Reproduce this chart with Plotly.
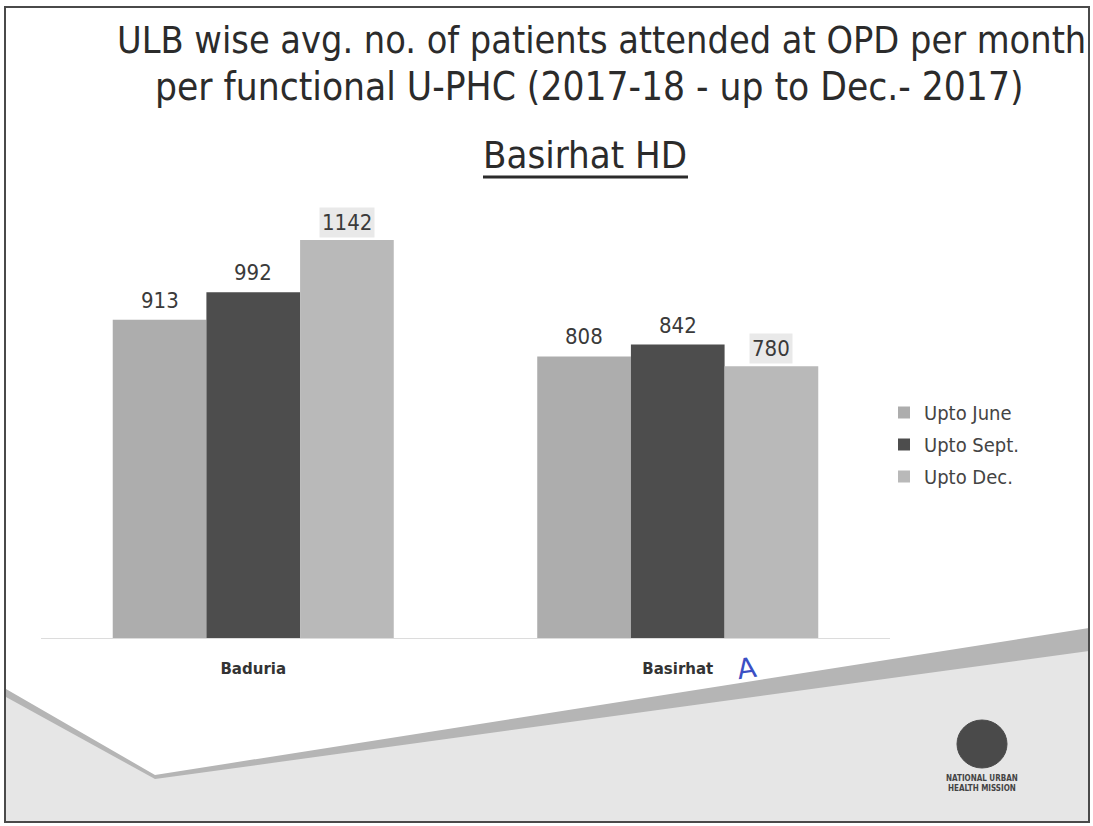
import plotly.graph_objects as go

# ---- data -------------------------------------------------------------
ulbs = ["Baduria", "Basirhat"]
series_names = ["Upto June", "Upto Sept.", "Upto Dec."]
upto_june = [913, 808]
upto_sept = [992, 842]
upto_dec = [1142, 780]
series_values = [upto_june, upto_sept, upto_dec]

title_line1 = "ULB wise avg. no. of patients attended at OPD per month"
title_line2 = "per functional U-PHC (2017-18 - up to Dec.- 2017)"
subtitle = "Basirhat HD"

# ---- styling ----------------------------------------------------------
W, H = 1093, 826
PL, PR, PT, PB = 41, 890, 200, 638          # plot-area edges in pixels
bar_colors = ["#adadad", "#4d4d4d", "#b9b9b9"]
highlight = {(0, 2), (1, 2)}                # labels drawn on a shaded box
FONT = "DejaVu Sans Condensed, DejaVu Sans, sans-serif"
TXT = "#333333"


def fx(px):
    return (px - PL) / (PR - PL)


def fy(py):
    return (PB - py) / (PB - PT)


fig = go.Figure()
for name, vals, col in zip(series_names, series_values, bar_colors):
    fig.add_trace(go.Bar(
        name=name, x=ulbs, y=vals, marker=dict(color=col, line=dict(width=0)),
        legendgroup=name, hoverinfo="x+y+name",
    ))

# value labels above each bar
bar_w = (PR - PL) / len(ulbs) * (1 - 0.338) / 3
annotations = []
for si, vals in enumerate(series_values):
    for ci, v in enumerate(vals):
        boxed = (ci, si) in highlight
        annotations.append(dict(
            x=ulbs[ci], y=v, xref="x", yref="y",
            xshift=(si - 1) * bar_w, yshift=2 if boxed else 4,
            text=str(v), showarrow=False, yanchor="bottom",
            font=dict(family=FONT, size=22, color="#3a3a3a"),
            bgcolor="#e9e9e9" if boxed else "rgba(0,0,0,0)",
            borderpad=2,
        ))

# titles
annotations += [
    dict(x=fx(601), y=fy(40), xref="paper", yref="paper", text=title_line1,
         showarrow=False, xanchor="center", yanchor="middle",
         font=dict(family=FONT, size=37.5, color="#2b2b2b")),
    dict(x=fx(589), y=fy(86), xref="paper", yref="paper", text=title_line2,
         showarrow=False, xanchor="center", yanchor="middle",
         font=dict(family=FONT, size=38.5, color="#2b2b2b")),
    dict(x=fx(585), y=fy(155), xref="paper", yref="paper", text=subtitle,
         showarrow=False, xanchor="center", yanchor="middle",
         font=dict(family=FONT, size=38, color="#2b2b2b")),
    # handwritten mark beside the second category
    dict(x=fx(746), y=fy(668), xref="paper", yref="paper", text="A",
         showarrow=False, xanchor="center", yanchor="middle", textangle=-8,
         font=dict(family="DejaVu Sans, sans-serif", size=28, color="#3b4fc4")),
    # mission logo caption
    dict(x=fx(982), y=fy(783), xref="paper", yref="paper",
         text="<b>NATIONAL URBAN<br>HEALTH MISSION</b>",
         showarrow=False, xanchor="center", yanchor="middle",
         font=dict(family=FONT, size=8, color="#444444")),
]


def path(points):
    return "M " + " L ".join(f"{fx(x):.5f},{fy(y):.5f}" for x, y in points) + " Z"


shapes = [
    # dark diagonal band
    dict(type="path", xref="paper", yref="paper", layer="below",
         path=path([(6, 689), (155, 775), (1089, 628), (1089, 822), (6, 822)]),
         fillcolor="#b5b5b5", line=dict(width=0)),
    # light grey floor
    dict(type="path", xref="paper", yref="paper", layer="below",
         path=path([(6, 697), (155, 779), (1089, 651), (1089, 822), (6, 822)]),
         fillcolor="#e6e6e6", line=dict(width=0)),
    # subtitle underline
    dict(type="line", xref="paper", yref="paper",
         x0=fx(483), x1=fx(688), y0=fy(177), y1=fy(177),
         line=dict(color="#2b2b2b", width=3)),
    # logo disc
    dict(type="circle", xref="paper", yref="paper", layer="below",
         x0=fx(957), x1=fx(1007), y0=fy(720), y1=fy(768),
         fillcolor="#4a4a4a", line=dict(color="#4a4a4a", width=1)),
    # slide frame
    dict(type="rect", xref="paper", yref="paper",
         x0=fx(5), x1=fx(1089), y0=fy(7), y1=fy(822),
         line=dict(color="#4a4a4a", width=2), fillcolor="rgba(0,0,0,0)"),
]

fig.update_layout(
    width=W, height=H,
    margin=dict(l=PL, r=W - PR, t=PT, b=H - PB, pad=0),
    paper_bgcolor="white", plot_bgcolor="rgba(0,0,0,0)",
    barmode="group", bargap=0.338, bargroupgap=0,
    showlegend=True,
    legend=dict(x=fx(884), y=fy(393), xanchor="left", yanchor="top",
                font=dict(family=FONT, size=20, color="#444444"),
                tracegroupgap=3, bgcolor="rgba(0,0,0,0)"),
    annotations=annotations, shapes=shapes,
    font=dict(family=FONT, color=TXT),
)
fig.update_xaxes(
    showline=True, linecolor="#dcdcdc", linewidth=1,
    ticks="outside", ticklen=17, tickcolor="rgba(0,0,0,0)",
    tickfont=dict(family="DejaVu Sans, sans-serif", size=15, color="#333333"),
    tickprefix="<b>", ticksuffix="</b>", showgrid=False, fixedrange=True,
)
fig.update_yaxes(
    range=[0, (PB - PT) / ((638 - 240) / 1142)], visible=False,
    showgrid=False, zeroline=False, fixedrange=True,
)

fig.write_html("out.html")
